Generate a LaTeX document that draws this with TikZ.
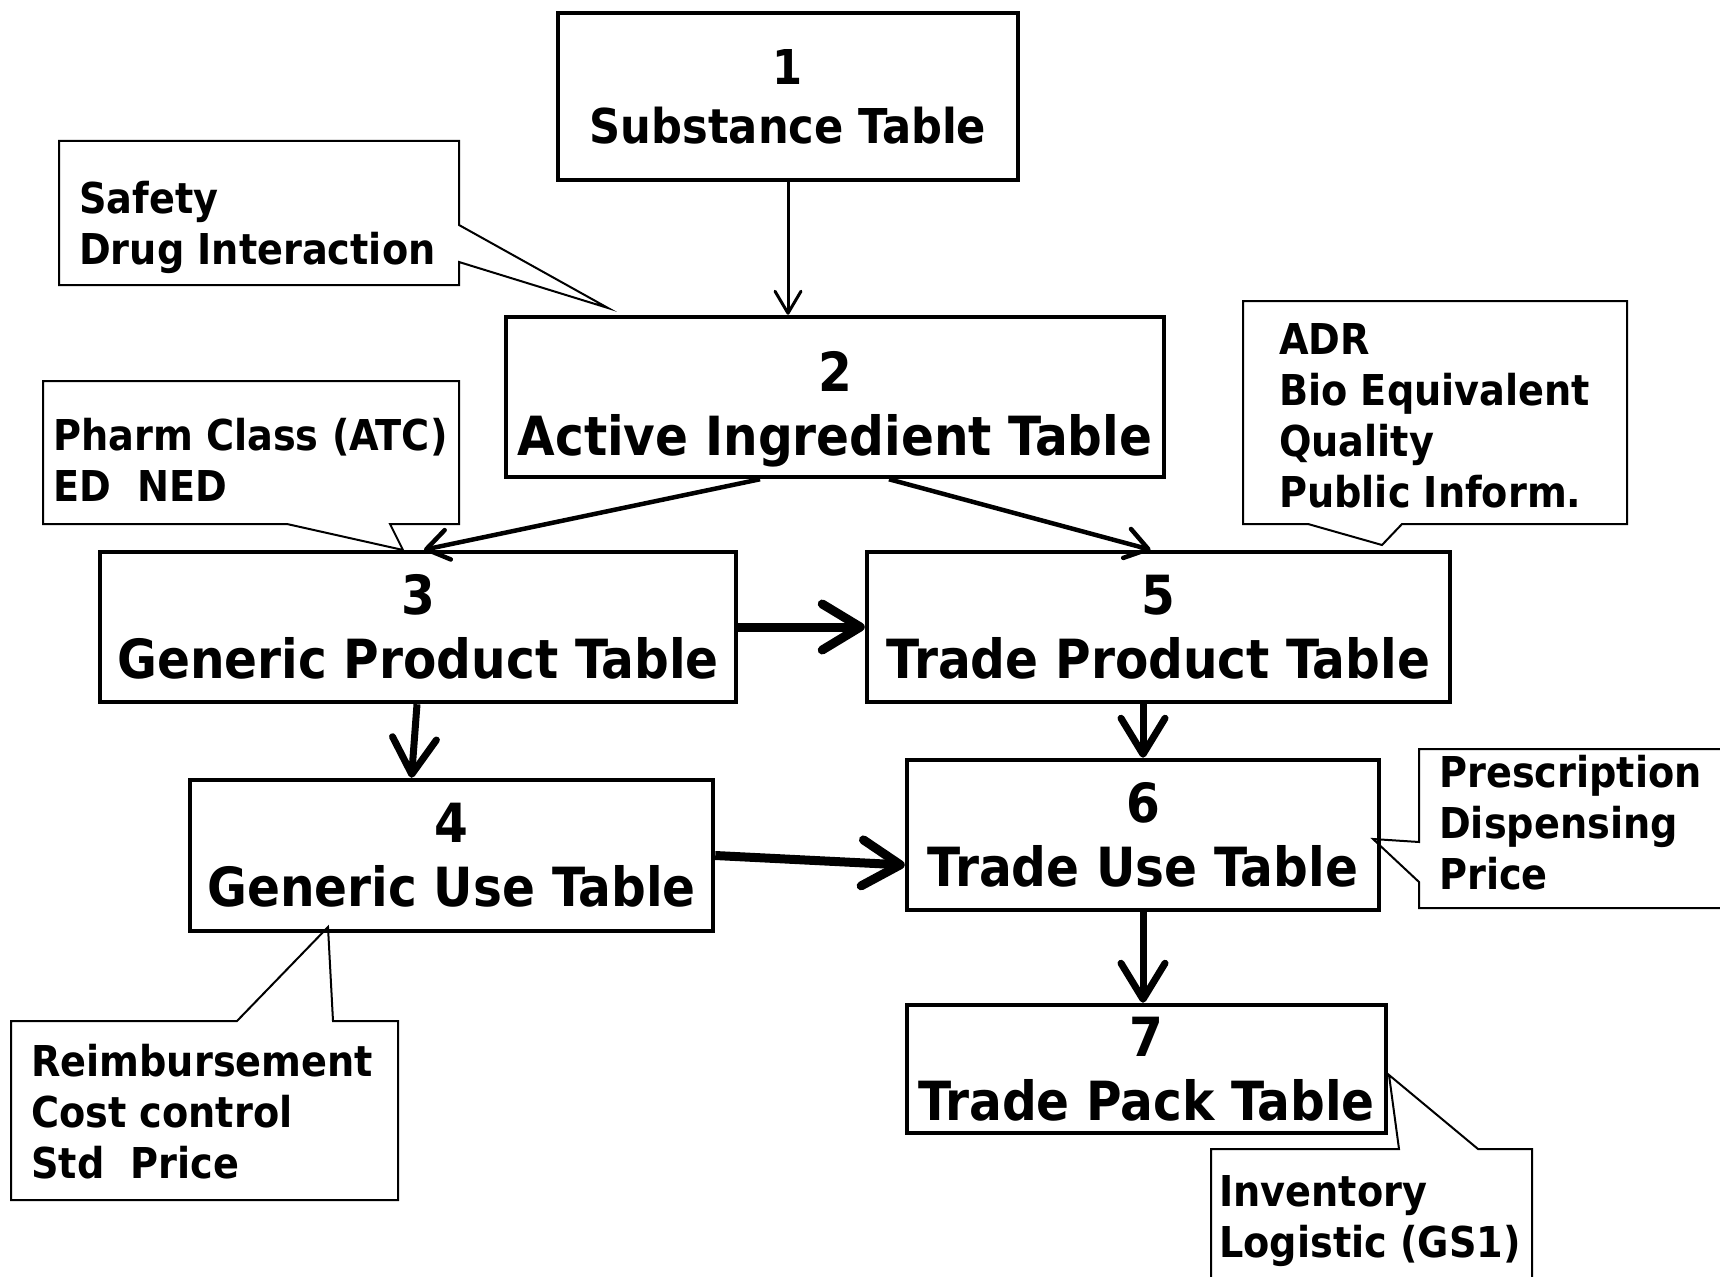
\documentclass[tikz,border=0pt]{standalone}
\usepackage{fontspec}
\setmainfont{DejaVu Sans Condensed}
\usetikzlibrary{arrows.meta,calc}
\begin{document}
\begin{tikzpicture}[x=1pt,y=-1pt,
  tbox/.style={draw, line width=4.5pt, rectangle, align=center, inner sep=0pt,
    font=\bfseries\fontsize{54}{64}\selectfont},
  callout/.style={draw, line width=2pt, line join=miter},
  ctext/.style={anchor=west, align=left, inner sep=0pt,
    font=\bfseries\fontsize{42.5}{51}\selectfont},
  thin arrow/.style={line width=3pt, -{Straight Barb[length=22pt,width=26pt,round]}},
  mid arrow/.style={line width=4.5pt, -{Straight Barb[length=22pt,width=30pt,round]}},
  thick arrow/.style={line width=7pt, -{Straight Barb[length=36pt,width=44pt,round]}},
  heavy arrow/.style={line width=9pt, -{Straight Barb[length=38pt,width=46pt,round]}}]
\useasboundingbox (0,0) rectangle (1720,1276);
\clip (0,0) rectangle (1720,1276);

% main tables
\node[tbox, minimum width=460pt, minimum height=167pt,
  font=\bfseries\fontsize{48}{59}\selectfont] (b1) at (788,96.5) {1\\Substance Table};
\node[tbox, minimum width=658pt, minimum height=160pt,
  label={[align=center, inner sep=0pt, yshift=-12pt,
    font=\bfseries\fontsize{54}{64}\selectfont]center:{2\\Active Ingredient Table}}] (b2) at (835,397) {};
\node[tbox, minimum width=636pt, minimum height=150pt] (b3) at (418,627) {3\\Generic Product Table};
\node[tbox, minimum width=583pt, minimum height=150pt] (b5) at (1158.5,627) {5\\Trade Product Table};
\node[tbox, minimum width=523pt, minimum height=151pt] (b4) at (451.5,855.5) {4\\Generic Use Table};
\node[tbox, minimum width=472pt, minimum height=150pt] (b6) at (1143,835) {6\\Trade Use Table};
\node[tbox, minimum width=479pt, minimum height=128pt] (b7) at (1146.5,1069) {7\\Trade Pack Table};

% connectors
\draw[thin arrow] (b1.south) -- (b1.south |- b2.north);
\draw[mid arrow] ($(b2.south)+(-75,0)$) -- ($(b3.north)+(6,0)$);
\draw[mid arrow] ($(b2.south)+(54,0)$) -- ($(b5.north)+(-8,0)$);
\draw[heavy arrow] (b3.east) -- (b5.west);
\draw[thick arrow] ($(b3.south)+(-1,0)$) -- ($(b4.north)+(-40,0)$);
\draw[thick arrow] (b6.north |- b5.south) -- (b6.north);
\draw[heavy arrow] (b4.east) -- ($(b6.west)+(0,30)$);
\draw[thick arrow] (b6.south) -- (b6.south |- b7.north);

% callouts
\draw[callout] (59,141) -- (459,141) -- (459,225) -- (608,308) -- (459,262) -- (459,285) -- (59,285) -- cycle;
\node[ctext] (ca) at (79,227) {Safety\\Drug Interaction};

\draw[callout] (43,381) -- (459,381) -- (459,524) -- (390,524) -- (403,550) -- (287,524) -- (43,524) -- cycle;
\node[ctext] (cb) at (53,460) {Pharm Class (ATC)\\ED\ \ NED};

\draw[callout] (1243,301) -- (1627,301) -- (1627,524) -- (1402,524) -- (1382,545) -- (1308,524) -- (1243,524) -- cycle;
\node[ctext] (cc) at (1279,416) {ADR\\Bio Equivalent\\Quality\\Public Inform.};

\draw[callout] (1419,749) -- (1725,749) -- (1725,908) -- (1419,908) -- (1419,882) -- (1373,839) -- (1419,842) -- cycle;
\node[ctext] (cd) at (1439,823) {Prescription\\Dispensing\\Price};

\draw[callout] (11,1021) -- (237,1021) -- (328,927) -- (333,1021) -- (398,1021) -- (398,1200) -- (11,1200) -- cycle;
\node[ctext] (ce) at (31,1111.5) {Reimbursement\\Cost control\\Std\ \ Price};

\draw[callout] (1211,1149) -- (1399,1149) -- (1389,1075) -- (1478,1149) -- (1532,1149) -- (1532,1290) -- (1211,1290) -- cycle;
\node[ctext] (cf) at (1219,1221) {Inventory\\Logistic (GS1)};
\end{tikzpicture}
\end{document}
